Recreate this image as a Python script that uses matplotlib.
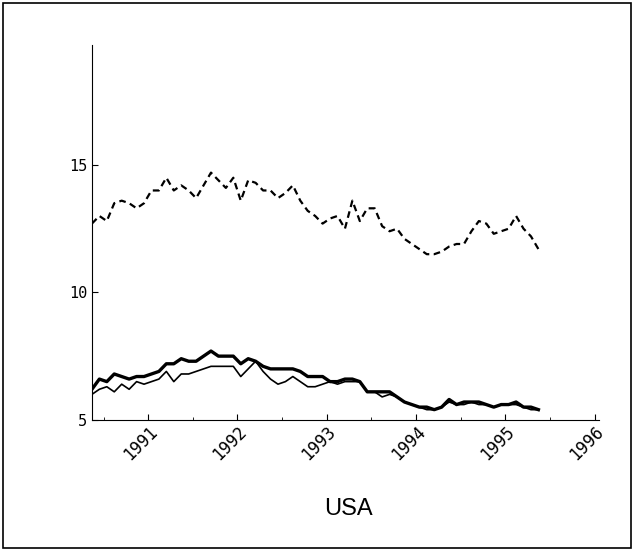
import numpy as np
import matplotlib.pyplot as plt
from matplotlib.patches import Rectangle

# monthly series
start = 1990.37
dashed = [12.7, 13.0, 12.8, 13.5, 13.6, 13.5, 13.3, 13.5, 14.0, 14.0, 14.5, 14.0, 14.2, 14.0, 13.7,
          14.2, 14.7, 14.4, 14.1, 14.5, 13.6, 14.4, 14.3, 14.0, 14.0, 13.7, 13.9, 14.2, 13.6, 13.2,
          13.0, 12.7, 12.9, 13.0, 12.5, 13.6, 12.8, 13.3, 13.3, 12.6, 12.4, 12.5, 12.1, 11.9, 11.7,
          11.5, 11.5, 11.6, 11.8, 11.9, 11.9, 12.4, 12.8, 12.7, 12.3, 12.4, 12.5, 13.0, 12.5, 12.2, 11.7]
thick = [6.2, 6.6, 6.5, 6.8, 6.7, 6.6, 6.7, 6.7, 6.8, 6.9, 7.2, 7.2, 7.4, 7.3, 7.3, 7.5, 7.7, 7.5,
         7.5, 7.5, 7.2, 7.4, 7.3, 7.1, 7.0, 7.0, 7.0, 7.0, 6.9, 6.7, 6.7, 6.7, 6.5, 6.5, 6.6, 6.6,
         6.5, 6.1, 6.1, 6.1, 6.1, 5.9, 5.7, 5.6, 5.5, 5.5, 5.4, 5.5, 5.8, 5.6, 5.7, 5.7, 5.7, 5.6,
         5.5, 5.6, 5.6, 5.7, 5.5, 5.5, 5.4]
thin = [6.0, 6.2, 6.3, 6.1, 6.4, 6.2, 6.5, 6.4, 6.5, 6.6, 6.9, 6.5, 6.8, 6.8, 6.9, 7.0, 7.1, 7.1,
        7.1, 7.1, 6.7, 7.0, 7.3, 6.9, 6.6, 6.4, 6.5, 6.7, 6.5, 6.3, 6.3, 6.4, 6.5, 6.4, 6.5, 6.5,
        6.5, 6.1, 6.1, 5.9, 6.0, 5.9, 5.7, 5.6, 5.5, 5.4, 5.4, 5.5, 5.7, 5.6, 5.6, 5.7, 5.6, 5.6,
        5.5, 5.6, 5.6, 5.6, 5.5, 5.4, 5.4]
years = [1991, 1992, 1993, 1994, 1995, 1996]
yticks = [5, 10, 15]

def xs(s):
    return start + np.arange(len(s)) / 12

fig = plt.figure(figsize=(6.34, 5.51), dpi=100)
fig.patches.append(Rectangle((0.005, 0.005), 0.99, 0.99, transform=fig.transFigure,
                             fill=False, lw=1.2, color='black'))
ax = fig.add_axes([0.145, 0.238, 0.8, 0.68])
ax.plot(xs(dashed), dashed, 'k--', lw=1.6, dashes=(3, 2))
ax.plot(xs(thick), thick, 'k-', lw=2.4)
ax.plot(xs(thin), thin, 'k-', lw=1.2)

ax.set_xlim(start, 1996.05)
ax.set_ylim(5, 19.7)
ax.set_xticks(years)
ax.set_xticklabels([str(y) for y in years], rotation=45, ha='right', rotation_mode='anchor',
                   family='DejaVu Sans Mono', fontsize=12)
ax.set_xticks(np.arange(1990.5, 1996, 0.5), minor=True)
ax.set_yticks(yticks)
ax.set_yticklabels([str(y) for y in yticks], family='DejaVu Sans Mono', fontsize=11)
ax.tick_params(direction='in', length=4)
ax.tick_params(axis='x', pad=2)
ax.tick_params(which='minor', direction='in', length=2)
for s in ['top', 'right']:
    ax.spines[s].set_visible(False)
fig.text(0.55, 0.065, 'USA', ha='center', fontsize=17, family='Liberation Sans')
fig.savefig('out.png')
